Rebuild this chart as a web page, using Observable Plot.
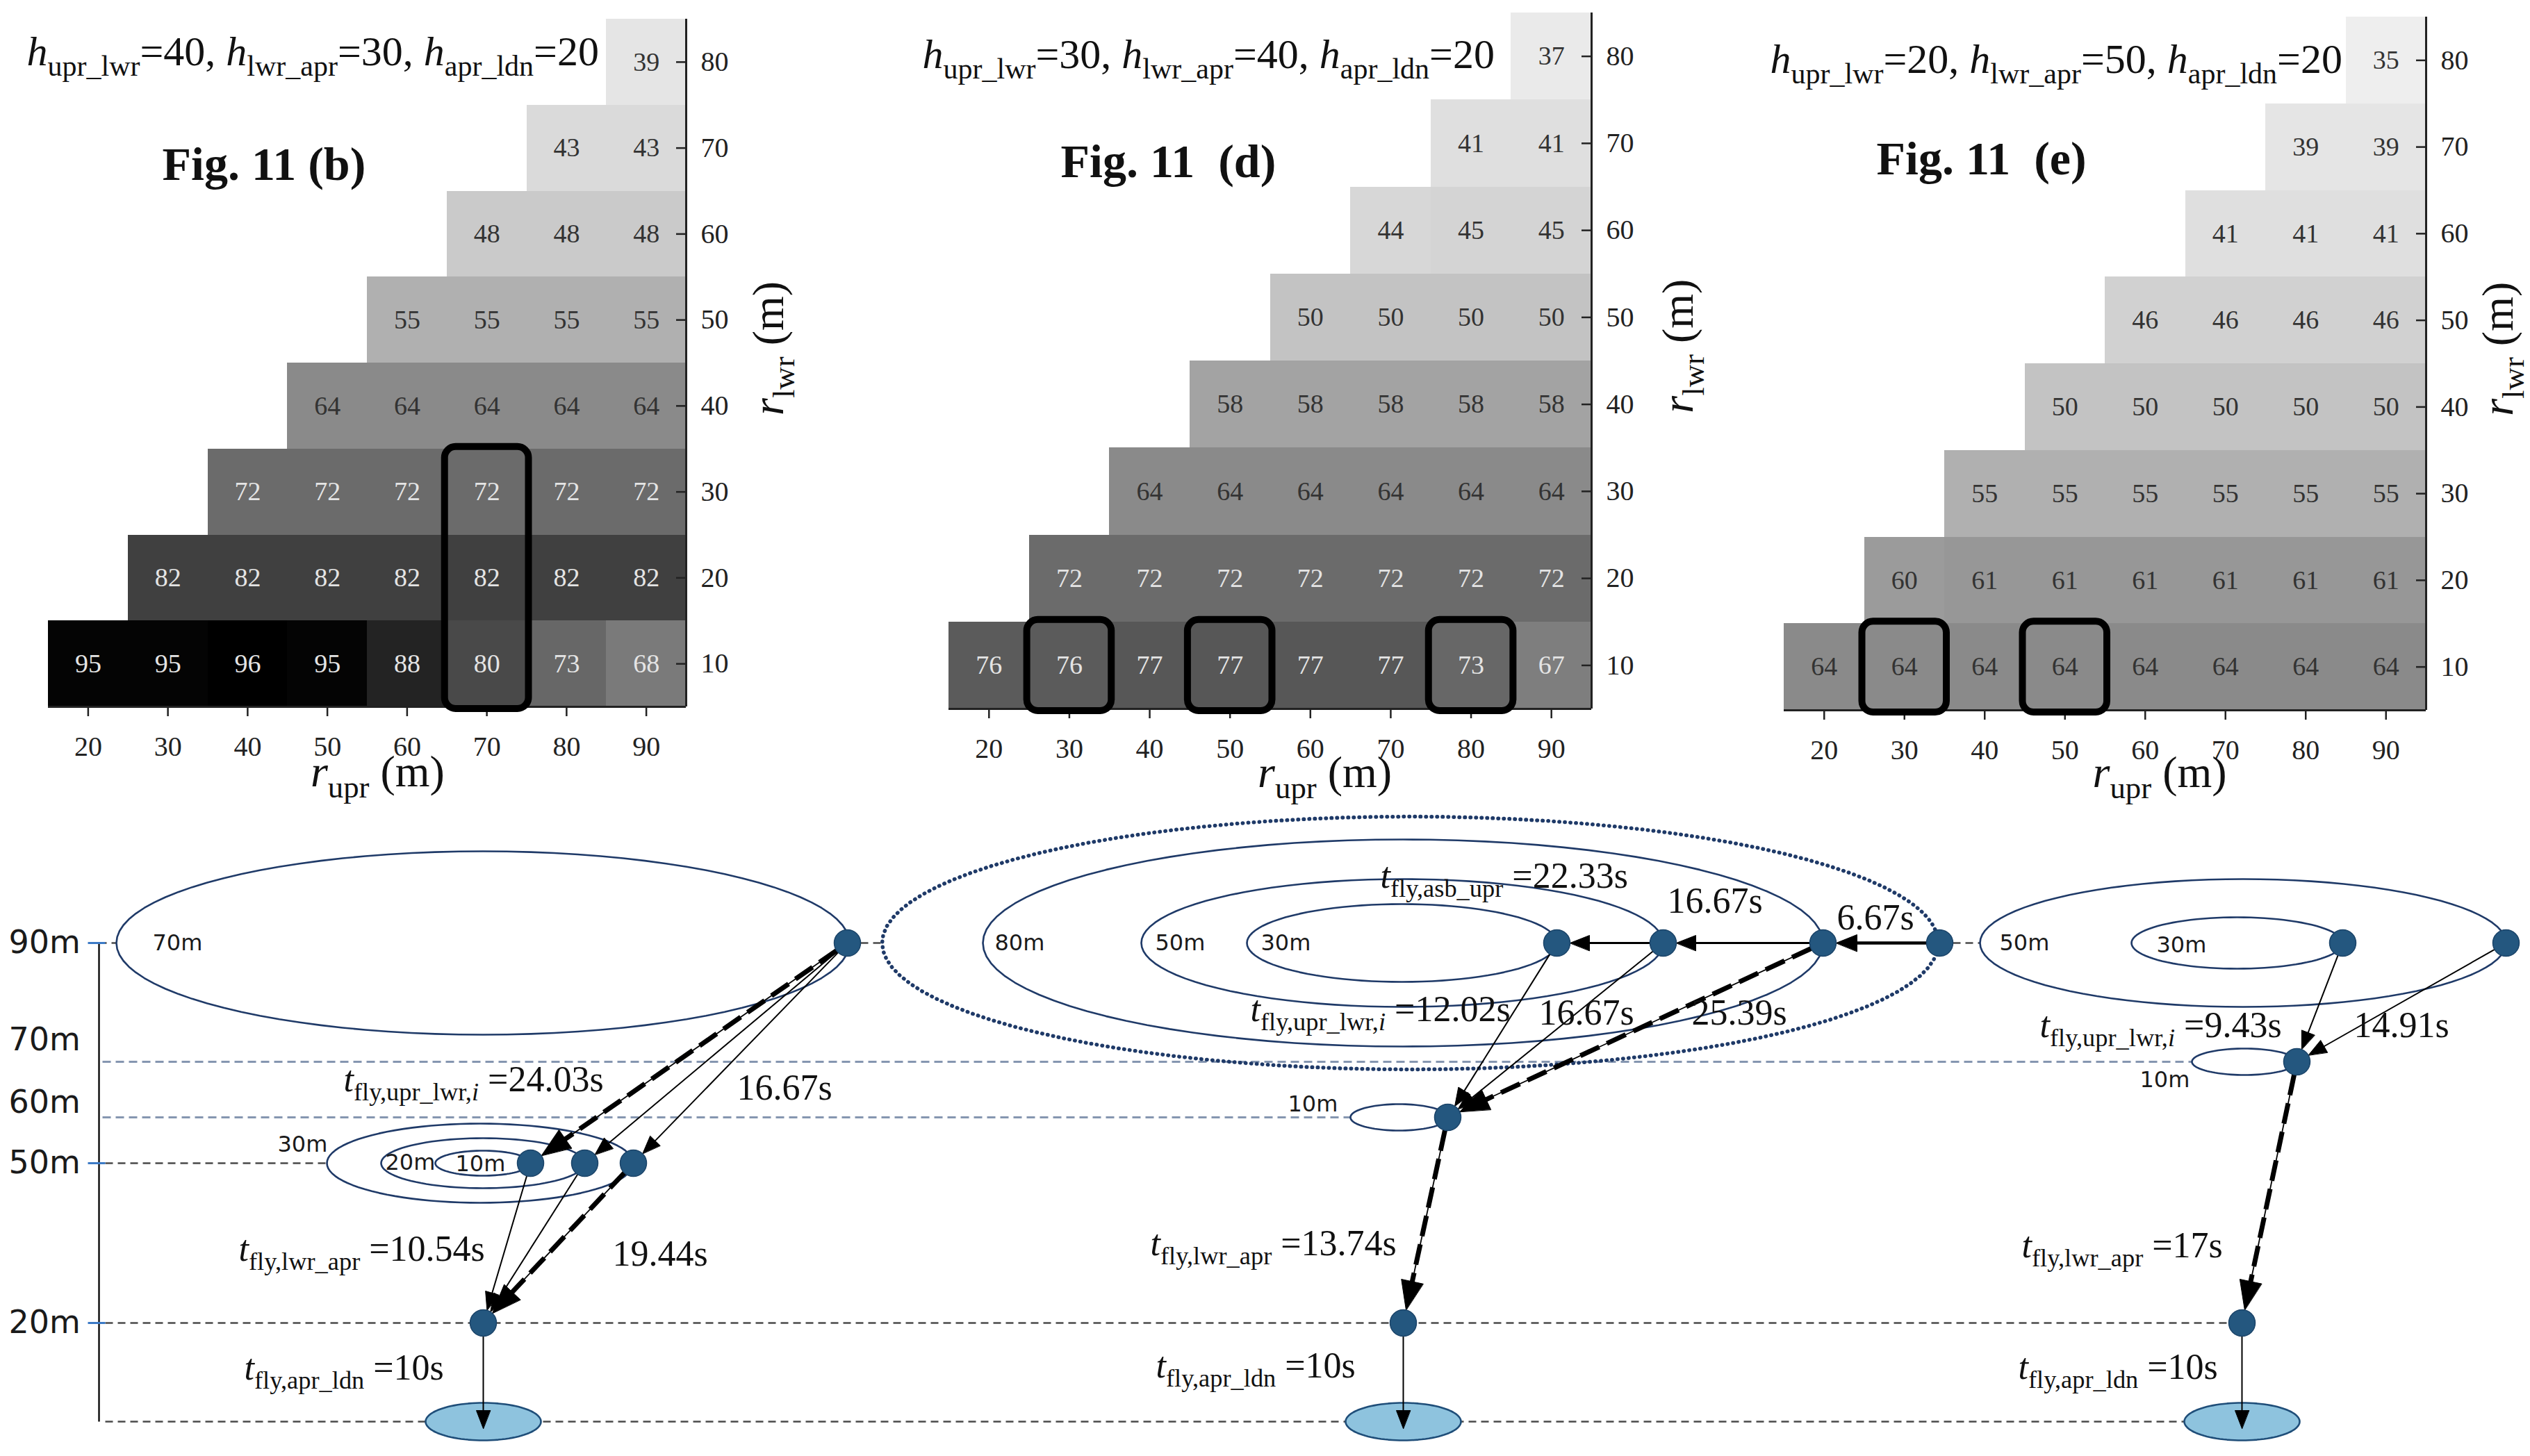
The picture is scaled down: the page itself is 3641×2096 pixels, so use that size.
<!DOCTYPE html>
<html>
<head>
<meta charset="utf-8">
<script src="https://cdn.jsdelivr.net/npm/d3@7"></script>
<script src="https://cdn.jsdelivr.net/npm/@observablehq/plot@0.6"></script>
<style>
  html, body { margin: 0; padding: 0; background: #fff; }
  #root { position: relative; width: 3641px; height: 2096px; background: #fff; overflow: hidden; }
  #root svg { position: absolute; overflow: visible; }
</style>
</head>
<body>
<div id="root"></div>
<script>
// ---------------- DATA: heatmaps ----------------
const rUpr = [20, 30, 40, 50, 60, 70, 80, 90];
const rLwr = [10, 20, 30, 40, 50, 60, 70, 80];
// rows by r_lwr (10 … 80); each row starts at r_upr = r_lwr + 10 and runs to 90
const valuesB = [
  [95, 95, 96, 95, 88, 80, 73, 68],
  [82, 82, 82, 82, 82, 82, 82],
  [72, 72, 72, 72, 72, 72],
  [64, 64, 64, 64, 64],
  [55, 55, 55, 55],
  [48, 48, 48],
  [43, 43],
  [39]
];
const valuesD = [
  [76, 76, 77, 77, 77, 77, 73, 67],
  [72, 72, 72, 72, 72, 72, 72],
  [64, 64, 64, 64, 64, 64],
  [58, 58, 58, 58, 58],
  [50, 50, 50, 50],
  [44, 45, 45],
  [41, 41],
  [37]
];
const valuesE = [
  [64, 64, 64, 64, 64, 64, 64, 64],
  [60, 61, 61, 61, 61, 61, 61],
  [55, 55, 55, 55, 55, 55],
  [50, 50, 50, 50, 50],
  [46, 46, 46, 46],
  [41, 41, 41],
  [39, 39],
  [35]
];
const highlightB = [{upr: 70, from: 10, to: 30}];
const highlightD = [{upr: 30, from: 10, to: 10}, {upr: 50, from: 10, to: 10}, {upr: 80, from: 10, to: 10}];
const highlightE = [{upr: 30, from: 10, to: 10}, {upr: 50, from: 10, to: 10}];
const titleB = "*h*_{upr_lwr}=40, *h*_{lwr_apr}=30, *h*_{apr_ldn}=20";
const titleD = "*h*_{upr_lwr}=30, *h*_{lwr_apr}=40, *h*_{apr_ldn}=20";
const titleE = "*h*_{upr_lwr}=20, *h*_{lwr_apr}=50, *h*_{apr_ldn}=20";
const figLabels = ["Fig. 11 (b)", "Fig. 11  (d)", "Fig. 11  (e)"];
const xTitle = "*r*_{upr} (m)";
const yTitle = "*r*_{lwr} (m)";

// ---------------- DATA: flight diagram ----------------
const altDomain = [0, 20, 50, 60, 70, 90];           // altitude (m) of the drawn levels
const altLabels = [
  {alt: 90, label: "90m"}, {alt: 73.6, label: "70m"}, {alt: 62.6, label: "60m"},
  {alt: 50, label: "50m"}, {alt: 20, label: "20m"}
];
const altTicks = [90, 50, 20];
const refLines = [
  {x1: 142, x2: 167, alt: 90, kind: "dark"}, {x1: 1238, x2: 1269, alt: 90, kind: "dark"},
  {x1: 2810, x2: 2849, alt: 90, kind: "dark"},
  {x1: 147, x2: 3154, alt: 70, kind: "blue"},
  {x1: 147, x2: 1943, alt: 60, kind: "blue"},
  {x1: 151, x2: 470, alt: 50, kind: "dark"},
  {x1: 151, x2: 3207, alt: 20, kind: "dark"},
  {x1: 151, x2: 3143, alt: 0, kind: "dark"}
];
const ellipses = [
  {cx: 694.5, alt: 90, rx: 527.5, ry: 132, kind: "solid"},
  {cx: 690.5, alt: 50, rx: 220.5, ry: 57, kind: "solid"},
  {cx: 694.5, alt: 50, rx: 146.5, ry: 36, kind: "solid"},
  {cx: 694.5, alt: 50, rx: 68.5, ry: 18, kind: "solid"},
  {cx: 2029, alt: 90, rx: 760, ry: 182, kind: "dotted"},
  {cx: 2018.5, alt: 90, rx: 604.5, ry: 149, kind: "solid"},
  {cx: 2017.5, alt: 90, rx: 375.5, ry: 92, kind: "solid"},
  {cx: 2017, alt: 90, rx: 223, ry: 56, kind: "solid"},
  {cx: 2013, alt: 60, rx: 70, ry: 19, kind: "solid"},
  {cx: 3227.5, alt: 90, rx: 378.5, ry: 92, kind: "solid"},
  {cx: 3219, alt: 90, rx: 152, ry: 37, kind: "solid"},
  {cx: 3229.5, alt: 70, rx: 75.5, ry: 19, kind: "solid"}
];
const landings = [{cx: 695, alt: 0, rx: 83, ry: 27}, {cx: 2019, alt: 0, rx: 83, ry: 27}, {cx: 3226, alt: 0, rx: 83, ry: 27}];
const nodes = [
  {x: 1219, alt: 90}, {x: 763, alt: 50}, {x: 841, alt: 50}, {x: 911, alt: 50}, {x: 695, alt: 20},
  {x: 2240, alt: 90}, {x: 2393, alt: 90}, {x: 2623, alt: 90}, {x: 2791, alt: 90}, {x: 2083, alt: 60}, {x: 2019, alt: 20},
  {x: 3371, alt: 90}, {x: 3606, alt: 90}, {x: 3305, alt: 70}, {x: 3226, alt: 20}
];
const arrows = [
  {x1: 1219, a1: 90, x2: 763, a2: 50, kind: "dash"},
  {x1: 1219, a1: 90, x2: 841, a2: 50, kind: "thin"},
  {x1: 1219, a1: 90, x2: 911, a2: 50, kind: "thin"},
  {x1: 763, a1: 50, x2: 695, a2: 20, kind: "thin"},
  {x1: 841, a1: 50, x2: 695, a2: 20, kind: "thin"},
  {x1: 911, a1: 50, x2: 695, a2: 20, kind: "dash"},
  {x1: 695, a1: 20, x2: 695, a2: 0, kind: "land"},
  {x1: 2791, a1: 90, x2: 2623, a2: 90, kind: "bold"},
  {x1: 2623, a1: 90, x2: 2393, a2: 90, kind: "mid"},
  {x1: 2393, a1: 90, x2: 2240, a2: 90, kind: "mid"},
  {x1: 2240, a1: 90, x2: 2083, a2: 60, kind: "thin"},
  {x1: 2393, a1: 90, x2: 2083, a2: 60, kind: "thin"},
  {x1: 2623, a1: 90, x2: 2083, a2: 60, kind: "dash"},
  {x1: 2083, a1: 60, x2: 2019, a2: 20, kind: "dash"},
  {x1: 2019, a1: 20, x2: 2019, a2: 0, kind: "land"},
  {x1: 3371, a1: 90, x2: 3305, a2: 70, kind: "thin"},
  {x1: 3606, a1: 90, x2: 3305, a2: 70, kind: "thin"},
  {x1: 3305, a1: 70, x2: 3226, a2: 20, kind: "dash"},
  {x1: 3226, a1: 20, x2: 3226, a2: 0, kind: "land"}
];
const radiusLabels = [
  {x: 219, alt: 90, text: "70m"}, {x: 399, alt: 54.1, text: "30m"}, {x: 554, alt: 50.1, text: "20m"}, {x: 655, alt: 49.9, text: "10m"},
  {x: 1431, alt: 90, text: "80m"}, {x: 1662, alt: 90, text: "50m"}, {x: 1814, alt: 90, text: "30m"}, {x: 1853, alt: 62.4, text: "10m"},
  {x: 2877, alt: 90, text: "50m"}, {x: 3103, alt: 89.6, text: "30m"}, {x: 3079, alt: 66.75, text: "10m"}
];
const timeLabels = [
  {x: 494, alt: 66.75, text: "*t*_{fly,upr_lwr,*i*} =24.03s"},
  {x: 1060, alt: 65.25, text: "16.67s"},
  {x: 343, alt: 33.8, text: "*t*_{fly,lwr_apr} =10.54s"},
  {x: 881, alt: 32.9, text: "19.44s"},
  {x: 351, alt: 10.85, text: "*t*_{fly,apr_ldn} =10s"},
  {x: 1986, alt: 101.2, text: "*t*_{fly,asb_upr} =22.33s"},
  {x: 2399, alt: 97.0, text: "16.67s"},
  {x: 2643, alt: 94.2, text: "6.67s"},
  {x: 1799, alt: 78.8, text: "*t*_{fly,upr_lwr,*i*} =12.02s"},
  {x: 2214, alt: 78.2, text: "16.67s"},
  {x: 2434, alt: 78.2, text: "25.39s"},
  {x: 1655, alt: 34.9, text: "*t*_{fly,lwr_apr} =13.74s"},
  {x: 1663, alt: 11.3, text: "*t*_{fly,apr_ldn} =10s"},
  {x: 2935, alt: 76.1, text: "*t*_{fly,upr_lwr,*i*} =9.43s"},
  {x: 3387, alt: 76.1, text: "14.91s"},
  {x: 2909, alt: 34.5, text: "*t*_{fly,lwr_apr} =17s"},
  {x: 2904, alt: 11.0, text: "*t*_{fly,apr_ldn} =10s"}
];

// ---------------- helpers ----------------
const SERIF = "'Liberation Serif', 'Times New Roman', serif";
const SANS = "'DejaVu Sans', Verdana, sans-serif";
const root = document.getElementById("root");

function toCells(values) {
  return values.flatMap((row, i) => row.map((v, j) => ({upr: rUpr[i + j], lwr: rLwr[i], v})));
}

function parseRich(s) {
  const segs = []; let italic = false, sub = false, buf = "";
  const push = () => { if (buf) segs.push({t: buf, italic, sub}); buf = ""; };
  for (let i = 0; i < s.length; i++) {
    const c = s[i];
    if (c === "_" && s[i + 1] === "{") { push(); sub = true; i++; continue; }
    if (c === "}" && sub) { push(); sub = false; continue; }
    if (c === "*") { push(); italic = !italic; continue; }
    buf += c;
  }
  push();
  return segs;
}

function richify(svg) {
  svg.querySelectorAll("text").forEach((t) => {
    const s = t.textContent;
    if (!s.includes("*") && !s.includes("_{")) return;
    const F = parseFloat(getComputedStyle(t).fontSize) || 40;
    const segs = parseRich(s);
    while (t.firstChild) t.removeChild(t.firstChild);
    let shifted = false;
    for (const g of segs) {
      const ts = document.createElementNS("http://www.w3.org/2000/svg", "tspan");
      ts.textContent = g.t;
      if (g.italic) ts.setAttribute("font-style", "italic");
      if (g.sub) {
        ts.setAttribute("font-size", (F * 0.7).toFixed(1));
        if (!shifted) { ts.setAttribute("dy", (F * 0.25).toFixed(1)); shifted = true; }
      } else if (shifted) {
        ts.setAttribute("dy", (-F * 0.25).toFixed(1)); shifted = false;
      }
      t.appendChild(ts);
    }
  });
}

function heatmap(cfg) {
  const ML = 60, MB = 150;
  const cells = toCells(cfg.values);
  const tickLen = 14 * 80 / cfg.innerW;   // 14px inward tick, in data units
  const svg = Plot.plot({
    width: ML + cfg.innerW + cfg.mR,
    height: cfg.top + cfg.innerH + MB,
    marginLeft: ML, marginRight: cfg.mR, marginTop: cfg.top, marginBottom: MB,
    x: {domain: [15, 95]},
    y: {domain: [5, 85]},
    color: {type: "linear", scheme: "greys", domain: [26, 96]},
    style: {color: "#222", background: "transparent"},
    marks: [
      Plot.rect(cells, {x1: (d) => d.upr - 5, x2: (d) => d.upr + 5, y1: (d) => d.lwr - 5, y2: (d) => d.lwr + 5, fill: "v", shapeRendering: "crispEdges"}),
      Plot.text(cells, {x: "upr", y: "lwr", text: (d) => String(d.v), fill: (d) => (d.v >= 66 ? "#e4e4e4" : "#333333"), fontSize: 38, fontFamily: SERIF}),
      Plot.ruleY([5], {stroke: "#222", strokeWidth: 3}),
      Plot.ruleX([95], {stroke: "#222", strokeWidth: 3}),
      Plot.axisX({ticks: rUpr, tickSize: 14, tickPadding: 28, fontSize: 40, fontFamily: SERIF, strokeWidth: 2.5, label: null}),
      Plot.ruleY(rLwr, {y: (d) => d, x1: () => 95 - tickLen, x2: () => 95, stroke: "#222", strokeWidth: 2.5}),
      Plot.axisY({anchor: "right", ticks: rLwr, tickSize: 0, tickPadding: 21, fontSize: 40, fontFamily: SERIF, label: null}),
      Plot.rect(cfg.boxes, {x1: (d) => d.upr - 5, x2: (d) => d.upr + 5, y1: (d) => d.from - 5, y2: (d) => d.to + 5, fill: "none", stroke: "black", strokeWidth: 10, rx: 16, inset: -3}),
      Plot.text([cfg.title], {frameAnchor: "top-left", dx: cfg.titleDx, dy: cfg.titleDy, textAnchor: "start", lineAnchor: "middle", fontSize: 60, fontFamily: SERIF, fill: "#111"}),
      Plot.text([cfg.fig], {frameAnchor: "top-left", dx: cfg.figDx, dy: cfg.figDy, textAnchor: "start", lineAnchor: "middle", fontSize: 68, fontWeight: "bold", fontFamily: SERIF, fill: "#111"}),
      Plot.text([xTitle], {frameAnchor: "bottom", x: [cfg.xTitleX], dy: cfg.xTitleDy, textAnchor: "middle", lineAnchor: "middle", fontSize: 64, fontFamily: SERIF, fill: "#111"}),
      Plot.text([yTitle], {frameAnchor: "right", y: [46.7], dx: cfg.yTitleDx, rotate: -90, textAnchor: "middle", lineAnchor: "middle", fontSize: 64, fontFamily: SERIF, fill: "#111"})
    ]
  });
  svg.style.left = (cfg.left - ML) + "px";
  svg.style.top = "0px";
  root.appendChild(svg);
  return svg;
}

const svgs = [];
svgs.push(heatmap({values: valuesB, boxes: highlightB, title: titleB, fig: figLabels[0], left: 69, top: 27, innerW: 918, innerH: 990, mR: 200,
  titleDx: -31, titleDy: 47, figDx: 164, figDy: 210, xTitleX: 56.3, xTitleDy: 94, yTitleDx: 119}));
svgs.push(heatmap({values: valuesD, boxes: highlightD, title: titleD, fig: figLabels[1], left: 1365, top: 18, innerW: 925, innerH: 1002, mR: 200,
  titleDx: -38, titleDy: 60, figDx: 161, figDy: 215, xTitleX: 61.8, xTitleDy: 92, yTitleDx: 125}));
svgs.push(heatmap({values: valuesE, boxes: highlightE, title: titleE, fig: figLabels[2], left: 2567, top: 24, innerW: 924, innerH: 998, mR: 150,
  titleDx: -20, titleDy: 61, figDx: 133, figDy: 205, xTitleX: 61.8, xTitleDy: 90, yTitleDx: 104}));

// ---------------- flight diagram ----------------
const DTOP = 1150, DH = 2096 - DTOP, W = 3641;
// altitude → vertical position (piecewise, as drawn in the schematic)
const ys = d3.scaleLinear().domain(altDomain).range([2046, 1904, 1674, 1608, 1528, 1357].map((p) => p - DTOP));
const Y = (d) => ys(d.alt);

function ellipsePts(e, id) {
  const cy = ys(e.alt), pts = [];
  for (let k = 0; k <= 96; k++) {
    const t = (k / 96) * 2 * Math.PI;
    pts.push({id, x: e.cx + e.rx * Math.cos(t), y: cy + e.ry * Math.sin(t)});
  }
  return pts;
}
const solidEll = ellipses.flatMap((e, i) => (e.kind === "solid" ? ellipsePts(e, "e" + i) : []));
const dottedEll = ellipses.flatMap((e, i) => (e.kind === "dotted" ? ellipsePts(e, "e" + i) : []));
const landEll = landings.flatMap((e, i) => ellipsePts(e, "l" + i));

const KIND = {thin: {hl: 26, hw: 10}, land: {hl: 26, hw: 10}, mid: {hl: 28, hw: 11}, bold: {hl: 30, hw: 12}, dash: {hl: 42, hw: 16}};
const NODE_R = 19;
const shafts = [], heads = [];
arrows.forEach((a, i) => {
  const p1 = [a.x1, ys(a.a1)], p2 = [a.x2, ys(a.a2)];
  const dx = p2[0] - p1[0], dy = p2[1] - p1[1], L = Math.hypot(dx, dy), ux = dx / L, uy = dy / L;
  const endIn = a.kind === "land" ? -10 : NODE_R;
  const k = KIND[a.kind];
  const s = [p1[0] + ux * NODE_R, p1[1] + uy * NODE_R];
  const tip = [p2[0] - ux * endIn, p2[1] - uy * endIn];
  const base = [tip[0] - ux * k.hl, tip[1] - uy * k.hl];
  const e = [base[0] + ux * 3, base[1] + uy * 3];
  shafts.push({kind: a.kind, x1: s[0], y1: s[1], x2: e[0], y2: e[1]});
  const nx = -uy, ny = ux;
  [[tip[0], tip[1]], [base[0] + nx * k.hw, base[1] + ny * k.hw], [base[0] - nx * k.hw, base[1] - ny * k.hw]]
    .forEach((p) => heads.push({id: "h" + i, x: p[0], y: p[1]}));
});

const ELL_STROKE = "#1f3a68";
const link = (data, opts) => Plot.link(data, {x1: "x1", y1: "y1", x2: "x2", y2: "y2", ...opts});
const diagram = Plot.plot({
  width: W, height: DH,
  marginLeft: 0, marginRight: 0, marginTop: 0, marginBottom: 0,
  x: {type: "identity", axis: null},
  y: {type: "identity", axis: null},
  style: {background: "transparent"},
  marks: [
    Plot.link(refLines.filter((d) => d.kind === "blue"), {x1: "x1", x2: "x2", y1: Y, y2: Y, stroke: "#8596b0", strokeWidth: 3, strokeDasharray: "12 7"}),
    Plot.link(refLines.filter((d) => d.kind === "dark"), {x1: "x1", x2: "x2", y1: Y, y2: Y, stroke: "#4a4a4a", strokeWidth: 2.5, strokeDasharray: "11 7"}),
    Plot.link([{alt0: 0, alt1: 90}], {x1: () => 142, x2: () => 142, y1: (d) => ys(d.alt0), y2: (d) => ys(d.alt1), stroke: "#111", strokeWidth: 2.5}),
    Plot.link(altTicks, {x1: () => 126, x2: () => 151, y1: (d) => ys(d), y2: (d) => ys(d), stroke: "#3c7ac6", strokeWidth: 3}),
    Plot.line(dottedEll, {x: "x", y: "y", z: "id", stroke: ELL_STROKE, strokeWidth: 5.5, strokeDasharray: "0.5 7.5", strokeLinecap: "round"}),
    Plot.line(solidEll, {x: "x", y: "y", z: "id", stroke: ELL_STROKE, strokeWidth: 2.6}),
    Plot.line(landEll, {x: "x", y: "y", z: "id", fill: "#8ec3de", stroke: "#1f4e79", strokeWidth: 2.6}),
    link(shafts.filter((d) => d.kind === "dash"), {stroke: "#000", strokeWidth: 1.8}),
    link(shafts.filter((d) => d.kind === "dash"), {stroke: "#000", strokeWidth: 7, strokeDasharray: "30 12"}),
    link(shafts.filter((d) => d.kind === "thin" || d.kind === "land"), {stroke: "#000", strokeWidth: 2}),
    link(shafts.filter((d) => d.kind === "mid"), {stroke: "#000", strokeWidth: 3}),
    link(shafts.filter((d) => d.kind === "bold"), {stroke: "#000", strokeWidth: 4.5}),
    Plot.line(heads, {x: "x", y: "y", z: "id", fill: "#000", stroke: "#000", strokeWidth: 1, curve: "linear-closed"}),
    Plot.dot(nodes, {x: "x", y: Y, r: NODE_R, fill: "#24577f", stroke: "#1b4469", strokeWidth: 1.5}),
    Plot.text(altLabels, {x: () => 12, y: Y, text: "label", textAnchor: "start", fontFamily: SANS, fontSize: 46, fill: "#1a1a1a"}),
    Plot.text(radiusLabels, {x: "x", y: Y, text: "text", textAnchor: "start", fontFamily: SANS, fontSize: 32, fill: "#1a1a1a"}),
    Plot.text(timeLabels, {x: "x", y: Y, text: "text", textAnchor: "start", fontFamily: SERIF, fontSize: 52, fill: "#111"})
  ]
});
diagram.style.left = "0px";
diagram.style.top = DTOP + "px";
root.appendChild(diagram);
svgs.push(diagram);

svgs.forEach(richify);
</script>
</body>
</html>
